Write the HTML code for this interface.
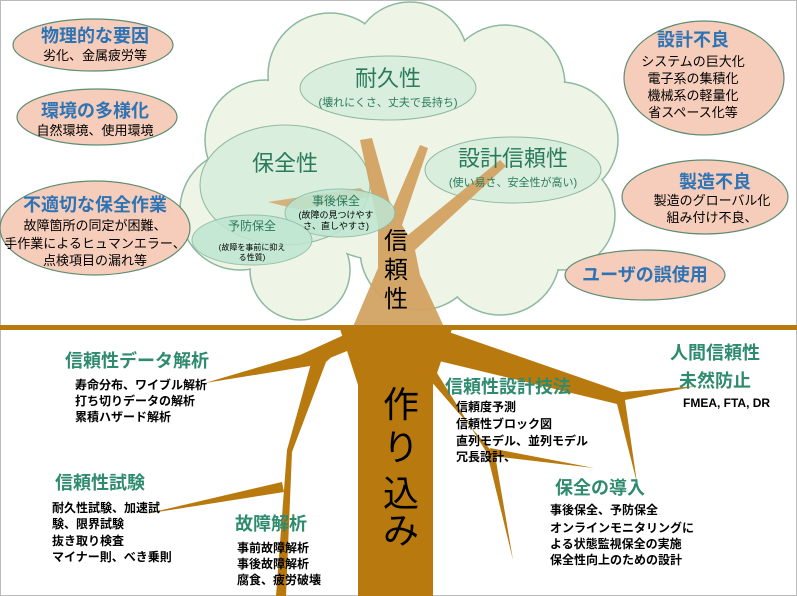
<!DOCTYPE html>
<html><head><meta charset="utf-8"><style>
html,body{margin:0;padding:0;background:#fff;}
svg{display:block;}
text{font-family:"Liberation Sans","Noto Sans CJK JP",sans-serif;}
.b{fill:#2e74b5;font-weight:bold;font-size:18px;text-anchor:middle}
.k{fill:#000;font-size:13px;text-anchor:middle}
.g{fill:#2a7a5c;font-size:22px;text-anchor:middle}
.t{fill:#2e8b6e;font-weight:bold;font-size:18px}
.s{fill:#000;font-size:12px;font-weight:bold}
</style></head><body>
<svg width="797" height="596" viewBox="0 0 797 596" xmlns="http://www.w3.org/2000/svg">
<rect x="0" y="0" width="797" height="596" fill="#fff"/>
<rect x="0.5" y="0.5" width="796" height="595" fill="none" stroke="#bbb"/>

<!-- canopy -->
<g fill="#eef4e6" stroke="#8db9a0" stroke-width="1.5">
<circle cx="265" cy="140" r="60"/><circle cx="240" cy="210" r="60"/><circle cx="300" cy="270" r="50"/>
<circle cx="330" cy="75" r="62"/><circle cx="410" cy="60" r="58"/><circle cx="505" cy="85" r="60"/>
<circle cx="560" cy="140" r="58"/><circle cx="560" cy="215" r="55"/><circle cx="500" cy="255" r="60"/>
<circle cx="420" cy="250" r="60"/><circle cx="380" cy="170" r="90"/><circle cx="470" cy="170" r="80"/>
</g>
<g fill="#eef4e6">
<circle cx="265" cy="140" r="59"/><circle cx="240" cy="210" r="59"/><circle cx="300" cy="270" r="49"/>
<circle cx="330" cy="75" r="61"/><circle cx="410" cy="60" r="57"/><circle cx="505" cy="85" r="59"/>
<circle cx="560" cy="140" r="57"/><circle cx="560" cy="215" r="54"/><circle cx="500" cy="255" r="59"/>
<circle cx="420" cy="250" r="59"/><circle cx="380" cy="170" r="89"/><circle cx="470" cy="170" r="79"/>
</g>
<!-- inner clouds -->
<g fill="#d9eedc" stroke="#8db9a0" stroke-width="1">
<ellipse cx="388" cy="88" rx="88" ry="32"/><ellipse cx="513" cy="170" rx="88" ry="33"/>
<ellipse cx="285" cy="185" rx="85" ry="60"/>
</g>
<!-- tan trunk -->
<polygon points="352,329 378,268 378,225 360,140 372,138 392,210 420,145 428,148 402,225 408,235 500,160 506,166 415,250 420,275 445,329" fill="#d2a262" opacity="0.95"/>
<polygon points="268,202 360,188 372,196 300,210" fill="#d2a262" opacity="0.8"/>
<!-- teal clouds -->
<g fill="#bde6d2" stroke="#8db9a0" stroke-width="1" opacity="0.85">
<ellipse cx="340" cy="213" rx="55" ry="24"/><ellipse cx="252" cy="240" rx="60" ry="25"/>
</g>
<text x="388" y="86" class="g" font-size="23">耐久性</text>
<text x="388" y="106" style="fill:#2a7a5c;font-size:11px;text-anchor:middle">(壊れにくさ、丈夫で長持ち)</text>
<text x="513" y="166" class="g">設計信頼性</text>
<text x="513" y="186" style="fill:#2a7a5c;font-size:11px;text-anchor:middle">(使い易さ、安全性が高い)</text>
<text x="285" y="171" class="g" font-size="24">保全性</text>
<text x="336" y="205" style="fill:#2a7a5c;font-size:12px;text-anchor:middle">事後保全</text>
<text x="336" y="218" style="fill:#000;font-size:9px;text-anchor:middle">(故障の見つけやす</text>
<text x="336" y="229" style="fill:#000;font-size:9px;text-anchor:middle">さ、直しやすさ)</text>
<text x="252" y="230" style="fill:#2a7a5c;font-size:12px;text-anchor:middle">予防保全</text>
<text x="252" y="250" style="fill:#000;font-size:8px;text-anchor:middle">(故障を事前に抑え</text>
<text x="252" y="260" style="fill:#000;font-size:8px;text-anchor:middle">る性質)</text>
<text x="396" y="249" style="fill:#000;font-size:24px;text-anchor:middle">信</text>
<text x="396" y="278" style="fill:#000;font-size:24px;text-anchor:middle">頼</text>
<text x="396" y="307" style="fill:#000;font-size:24px;text-anchor:middle">性</text>

<!-- pink clouds -->
<g fill="#f6cdbb" stroke="#5e8c72" stroke-width="1.2">
<ellipse cx="93" cy="45" rx="80" ry="26"/><ellipse cx="97" cy="117" rx="80" ry="28"/>
<ellipse cx="95" cy="228" rx="95" ry="47"/>
<ellipse cx="704" cy="78" rx="80" ry="57"/><ellipse cx="705" cy="197" rx="83" ry="37"/>
<ellipse cx="645" cy="275" rx="80" ry="25"/>
</g>
<text x="95" y="42" class="b">物理的な要因</text><text x="95" y="60" class="k">劣化、金属疲労等</text>
<text x="95" y="117" class="b">環境の多様化</text><text x="95" y="135" class="k">自然環境、使用環境</text>
<text x="95" y="211" class="b">不適切な保全作業</text>
<text x="95" y="230" class="k">故障箇所の同定が困難、</text>
<text x="95" y="248" class="k">手作業によるヒュマンエラー、</text>
<text x="95" y="265" class="k">点検項目の漏れ等</text>
<text x="693" y="46" class="b">設計不良</text>
<text x="693" y="66" class="k">システムの巨大化</text><text x="693" y="83" class="k">電子系の集積化</text>
<text x="693" y="100" class="k">機械系の軽量化</text><text x="693" y="117" class="k">省スペース化等</text>
<text x="715" y="188" class="b">製造不良</text>
<text x="712" y="205" class="k">製造のグローバル化</text><text x="712" y="222" class="k">組み付け不良、</text>
<text x="645" y="281" class="b">ユーザの誤使用</text>

<!-- ground -->
<rect x="0" y="325" width="797" height="5" fill="#b8790f"/>
<!-- roots -->
<g fill="#b8790f">
<polygon points="340,329 452,329 433,385 433,596 358,596 358,385"/>
<polygon points="355,330 300,355 205,383 310,366 362,345"/>
<polygon points="350,340 312,360 287,450 276,596 286,596 292,452 326,362"/>
<polygon points="282,482 145,514 284,492"/>
<polygon points="440,329 622,392 697,386 625,400 637,483 617,404 435,360"/>
<polygon points="432,365 487,453 513,560 495,455 430,380"/>
<polygon points="490,448 594,468 492,456"/>
</g>
<g style="fill:#000;font-size:36px;text-anchor:middle">
<text x="401" y="417">作</text><text x="401" y="460">り</text><text x="401" y="506">込</text><text x="401" y="543">み</text>
</g>

<text x="65" y="367" class="t">信頼性データ解析</text>
<text x="75" y="389" class="s">寿命分布、ワイブル解析</text>
<text x="75" y="405" class="s">打ち切りデータの解析</text>
<text x="75" y="421" class="s">累積ハザード解析</text>
<text x="715" y="359" class="t" text-anchor="middle">人間信頼性</text>
<text x="715" y="387" class="t" text-anchor="middle">未然防止</text>
<text x="683" y="407" class="s">FMEA, FTA, DR</text>
<text x="445" y="393" class="t">信頼性設計技法</text>
<text x="456" y="411" class="s">信頼度予測</text>
<text x="456" y="428" class="s">信頼性ブロック図</text>
<text x="456" y="445" class="s">直列モデル、並列モデル</text>
<text x="456" y="461" class="s">冗長設計、</text>
<text x="55" y="489" class="t">信頼性試験</text>
<text x="52" y="512" class="s">耐久性試験、加速試</text>
<text x="52" y="528" class="s">験、限界試験</text>
<text x="52" y="545" class="s">抜き取り検査</text>
<text x="52" y="561" class="s">マイナー則、べき乗則</text>
<text x="235" y="530" class="t">故障解析</text>
<text x="237" y="552" class="s">事前故障解析</text>
<text x="237" y="568" class="s">事後故障解析</text>
<text x="237" y="584" class="s">腐食、疲労破壊</text>
<text x="555" y="494" class="t">保全の導入</text>
<text x="550" y="514" class="s">事後保全、予防保全</text>
<text x="550" y="532" class="s">オンラインモニタリングに</text>
<text x="550" y="548" class="s">よる状態監視保全の実施</text>
<text x="550" y="564" class="s">保全性向上のための設計</text>
</svg>
</body></html>
